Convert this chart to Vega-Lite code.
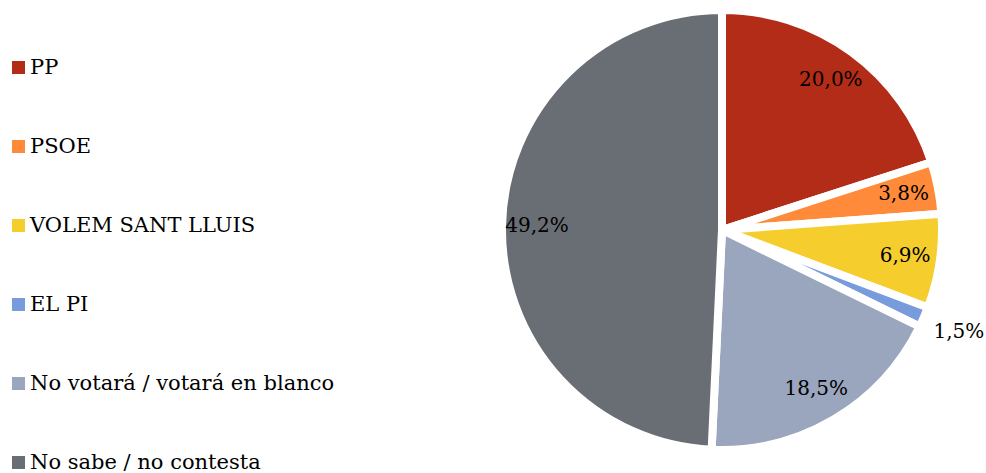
{
  "$schema": "https://vega.github.io/schema/vega-lite/v6.json",
  "width": 520,
  "height": 460,
  "autosize": {"type": "none"},
  "padding": {"left": 462, "top": 0, "right": 4, "bottom": 13},
  "background": "white",
  "config": {
    "view": {"stroke": null},
    "font": "DejaVu Serif",
    "locale": {"number": {"decimal": ",", "thousands": ".", "grouping": [3], "currency": ["", " €"]}}
  },
  "data": {
    "values": [
      {"orden": 1, "opcion": "PP", "valor": 0.200},
      {"orden": 2, "opcion": "PSOE", "valor": 0.038},
      {"orden": 3, "opcion": "VOLEM SANT LLUIS", "valor": 0.069},
      {"orden": 4, "opcion": "EL PI", "valor": 0.015},
      {"orden": 5, "opcion": "No votará / votará en blanco", "valor": 0.185},
      {"orden": 6, "opcion": "No sabe / no contesta", "valor": 0.492}
    ]
  },
  "encoding": {
    "theta": {"field": "valor", "type": "quantitative", "stack": true},
    "order": {"field": "orden", "type": "quantitative"},
    "color": {
      "field": "opcion",
      "type": "nominal",
      "scale": {
        "domain": ["PP", "PSOE", "VOLEM SANT LLUIS", "EL PI", "No votará / votará en blanco", "No sabe / no contesta"],
        "range": ["#B22C17", "#FF8B3A", "#F5CD2D", "#789CDB", "#9AA5BE", "#696D74"]
      },
      "legend": {
        "title": null,
        "orient": "none",
        "legendX": -454,
        "legendY": 57,
        "symbolType": "square",
        "symbolSize": 169,
        "symbolStrokeWidth": 0,
        "labelFont": "DejaVu Serif",
        "labelFontSize": 21,
        "labelColor": "#000000",
        "labelOffset": 1,
        "rowPadding": 57,
        "labelLimit": 400
      }
    }
  },
  "layer": [
    {
      "mark": {"type": "arc", "outerRadius": 220, "stroke": "white", "strokeWidth": 8}
    },
    {
      "mark": {"type": "text", "radius": 185, "fontSize": 20, "font": "DejaVu Serif"},
      "encoding": {
        "text": {"condition": {"test": "datum.opcion == 'EL PI'", "value": ""}, "field": "valor", "type": "quantitative", "format": ".1%"},
        "color": {"value": "black"}
      }
    },
    {
      "mark": {"type": "text", "radius": 258, "fontSize": 20, "font": "DejaVu Serif"},
      "encoding": {
        "text": {"condition": {"test": "datum.opcion != 'EL PI'", "value": ""}, "field": "valor", "type": "quantitative", "format": ".1%"},
        "color": {"value": "black"}
      }
    }
  ]
}
